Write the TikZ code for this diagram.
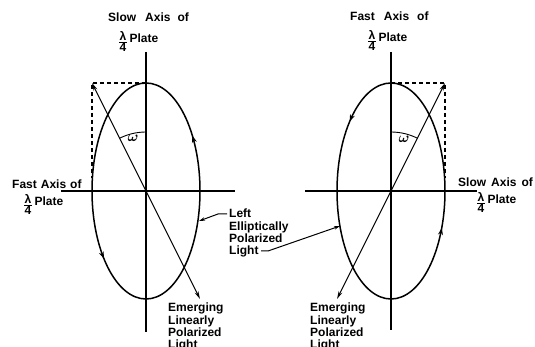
\documentclass[tikz,border=0pt]{standalone}
\usepackage{fontspec}
\usepackage{bm}
\setmainfont{Liberation Sans}
\usetikzlibrary{arrows.meta,decorations.markings}
\newcommand{\qfrac}{\raisebox{-9pt}{\vbox{\offinterlineskip\halign{\hfil##\hfil\cr λ\cr\noalign{\kern0.8pt}\rule{0.62em}{0.8pt}\cr\noalign{\kern1.2pt}4\cr}}}}
\newcommand{\qplate}{\qfrac\hspace{3pt}Plate}
\begin{document}
\begin{tikzpicture}[x=1pt,y=-1pt,
  lbl/.style={font=\bfseries\fontsize{12}{12.3}\selectfont, inner sep=0pt},
  mlbl/.style={lbl, align=left, anchor=north west},
  omg/.style={font=\fontsize{15}{15}\selectfont, inner sep=0pt},
  axisline/.style={line width=1.1pt},
  ell/.style={line width=1.5pt},
  dashedbox/.style={line width=1.1pt, dashed, dash pattern=on 4pt off 3pt},
  vec/.style={line width=1.1pt, {Stealth[length=8pt,width=4pt]}-{Stealth[length=8pt,width=4pt]}},
  lead/.style={line width=1pt, -{Stealth[length=6pt,width=3.5pt]}},
  tick/.style={line width=0.9pt}
]
\useasboundingbox (0,0) rectangle (535,347);

% ---------- left figure ----------
\coordinate (L) at (146,191);
\coordinate (Ltop) at (146,52);
\coordinate (Lbot) at (146,332);
\coordinate (Lw) at (61,191);
\coordinate (Le) at (235,191);
\coordinate (Lapex) at (146,83);
\coordinate (Lc) at (92,83);
\coordinate (Ld) at (92,178);
\coordinate (La) at (200,299);
\draw[axisline] (Ltop) -- (Lbot);
\draw[axisline] (Lw) -- (Le);
\draw[ell, postaction=decorate, decoration={markings,
    mark=at position 0.107 with {\arrow{Stealth[length=7pt,width=5pt]}},
    mark=at position 0.632 with {\arrow{Stealth[length=7pt,width=5pt]}}}]
  (L) ++(54,0) arc[start angle=0, end angle=-360, x radius=54, y radius=108];
\draw[dashedbox] (Lapex) -- (Lc) -- (Ld);
\draw[vec] (La) -- (Lc);
\draw[tick] (146,132) arc[start angle=-90, end angle=-116.6, radius=59];
\node[omg] (wL) at (133,138) {$\bm{\omega}$};

\node[lbl, anchor=base west] (slowTop) at (108,22) {Slow\hspace{9pt}Axis\hspace{7pt}of};
\node[lbl, anchor=base west] (plateTopL) at (119,43) {\qplate};
\node[lbl, anchor=base west] (fastMid) at (12,189) {Fast\hspace{4pt}Axis\hspace{4pt}of};
\node[lbl, anchor=base west] (plateMidL) at (24,206) {\qplate};
\node[mlbl] (emL) at (168,303) {Emerging\\Linearly\\Polarized\\Light};

% ---------- right figure ----------
\coordinate (R) at (391,191);
\coordinate (Rtop) at (391,52);
\coordinate (Rbot) at (391,330);
\coordinate (Rw) at (305,191);
\coordinate (Re) at (477,191);
\coordinate (Rapex) at (391,83);
\coordinate (Rc) at (445,83);
\coordinate (Rd) at (445,178);
\coordinate (Ra) at (337,299);
\draw[axisline] (Rtop) -- (Rbot);
\draw[axisline] (Rw) -- (Re);
\draw[ell, postaction=decorate, decoration={markings,
    mark=at position 0.364 with {\arrow{Stealth[length=7pt,width=5pt]}},
    mark=at position 0.929 with {\arrow{Stealth[length=7pt,width=5pt]}}}]
  (R) ++(54,0) arc[start angle=0, end angle=-360, x radius=54, y radius=108];
\draw[dashedbox] (Rapex) -- (Rc) -- (Rd);
\draw[vec] (Ra) -- (Rc);
\draw[tick] (391,132) arc[start angle=-90, end angle=-63.4, radius=59];
\node[omg] (wR) at (404,139) {$\bm{\omega}$};

\node[lbl, anchor=base west] (fastTop) at (350,21) {Fast\hspace{9pt}Axis\hspace{8pt}of};
\node[lbl, anchor=base west] (plateTopR) at (368,42) {\qplate};
\node[lbl, anchor=base west] (slowMid) at (458,187) {Slow\hspace{5pt}Axis\hspace{5pt}of};
\node[lbl, anchor=base west] (plateMidR) at (477,204) {\qplate};
\node[mlbl] (emR) at (310,303) {Emerging\\Linearly\\Polarized\\Light};

% ---------- shared label ----------
\node[mlbl] (lep) at (229,209) {Left\\Elliptically\\Polarized\\Light};
\coordinate (l1s) at (227,214);
\coordinate (l1k) at (218,214);
\coordinate (l1e) at (199,221);
\coordinate (l2s) at (261,251);
\coordinate (l2k) at (268,251);
\coordinate (l2e) at (340,226);
\draw[lead] (l1s) -- (l1k) -- (l1e);
\draw[lead] (l2s) -- (l2k) -- (l2e);
\end{tikzpicture}
\end{document}
